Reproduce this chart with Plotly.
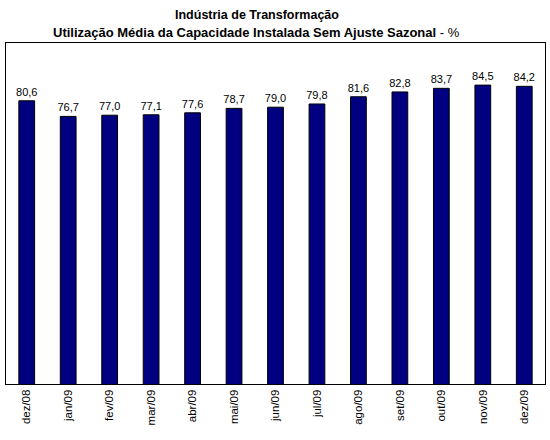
import plotly.graph_objects as go

categories = ["dez/08", "jan/09", "fev/09", "mar/09", "abr/09", "mai/09", "jun/09",
              "jul/09", "ago/09", "set/09", "out/09", "nov/09", "dez/09"]
values = [80.6, 76.7, 77.0, 77.1, 77.6, 78.7, 79.0, 79.8, 81.6, 82.8, 83.7, 84.5, 84.2]
title_line1 = "<b>Indústria de Transformação</b>"
title_line2 = "<b>Utilização Média da Capacidade Instalada Sem Ajuste Sazonal</b> - %"

FONT = "Liberation Sans, Arial, sans-serif"

fig = go.Figure(go.Bar(
    x=categories, y=values,
    marker=dict(color="#000080", line=dict(color="#000000", width=1)),
    width=0.38,
    texttemplate="%{y:.1f}", textposition="outside", constraintext="none",
    textfont=dict(family=FONT, size=11, color="#000000"),
    cliponaxis=False,
))

fig.update_layout(
    width=550, height=440,
    margin=dict(l=6, r=5, t=43, b=56),
    paper_bgcolor="white", plot_bgcolor="white",
    separators=",.",
    showlegend=False,
    xaxis=dict(
        tickangle=-90, showgrid=False, ticks="",
        showline=True, linecolor="#000000", linewidth=1, mirror=True,
        tickfont=dict(family=FONT, size=11.5, color="#000000"),
    ),
    yaxis=dict(
        range=[10, 95], showgrid=False, showticklabels=False, ticks="", zeroline=False,
        showline=True, linecolor="#000000", linewidth=1, mirror=True,
    ),
    annotations=[
        dict(text=title_line1, xref="paper", yref="paper", x=(257 - 6) / 539, y=1 + (43 - 15) / 341,
             xanchor="center", yanchor="middle", showarrow=False,
             font=dict(family=FONT, size=12.5, color="#000000")),
        dict(text=title_line2, xref="paper", yref="paper", x=(256 - 6) / 539, y=1 + (43 - 32) / 341,
             xanchor="center", yanchor="middle", showarrow=False,
             font=dict(family=FONT, size=13, color="#000000")),
    ],
)

fig.write_html("out.html")
